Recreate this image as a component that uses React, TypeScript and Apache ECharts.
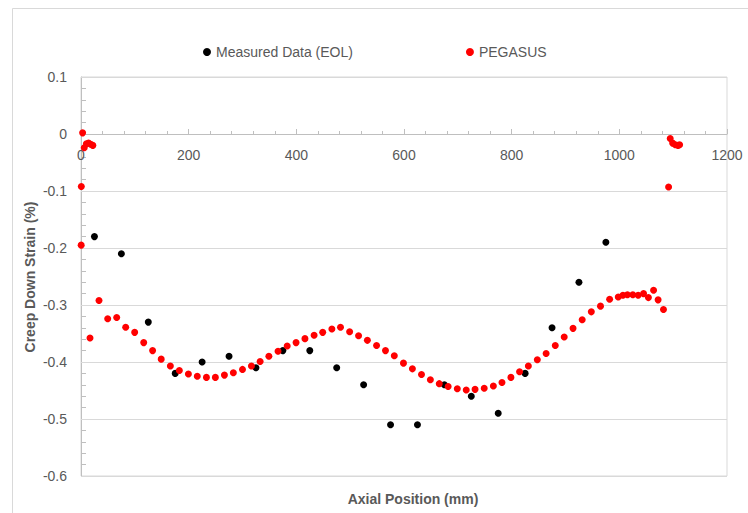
import React, { useEffect, useRef } from "react";
import * as echarts from "echarts";

const measuredX = [25, 75, 125, 175, 225, 275, 325, 375, 425, 475, 525, 575, 625, 675, 725, 775, 825, 875, 925, 975];
const measuredY = [-0.18, -0.21, -0.33, -0.42, -0.40, -0.39, -0.41, -0.38, -0.38, -0.41, -0.44, -0.51, -0.51, -0.44, -0.46, -0.49, -0.42, -0.34, -0.26, -0.19];

const pegasusX = [
  0.3, 0.6, 3, 6, 10, 14, 18, 22,
  16.7, 33.4, 49.6, 66.3, 83, 99.7, 116.5, 133, 149, 166,
  182.7, 199.5, 216, 233, 249.6, 266.4, 283, 300, 316.6, 332.7,
  349, 366, 383, 399.5, 416, 433, 449, 466, 482, 499,
  515.6, 532, 549, 565.6, 582, 599, 615.6, 632.5, 649, 665.5,
  682, 699, 715.6, 732, 749, 766, 782, 798.6, 814.7, 831,
  847.6, 864, 881, 897.6, 914, 931, 948, 965, 982, 998,
  1006.7, 1015, 1025, 1035, 1045, 1054, 1063.6, 1072, 1082,
  1091.5, 1094.5, 1099, 1104, 1109, 1112,
];
const pegasusY = [
  -0.195, -0.092, 0.002, -0.024, -0.017, -0.016, -0.018, -0.02,
  -0.358, -0.292, -0.324, -0.322, -0.339, -0.348, -0.366, -0.380, -0.395, -0.407,
  -0.415, -0.421, -0.425, -0.427, -0.427, -0.423, -0.419, -0.413, -0.407, -0.399,
  -0.390, -0.381, -0.372, -0.366, -0.359, -0.353, -0.348, -0.342, -0.339, -0.347,
  -0.354, -0.362, -0.371, -0.380, -0.389, -0.402, -0.412, -0.422, -0.431, -0.438,
  -0.443, -0.447, -0.449, -0.448, -0.446, -0.442, -0.436, -0.427, -0.417, -0.407,
  -0.396, -0.385, -0.371, -0.356, -0.341, -0.326, -0.312, -0.302, -0.290, -0.286,
  -0.283, -0.282, -0.282, -0.283, -0.280, -0.287, -0.274, -0.291, -0.308,
  -0.093, -0.008, -0.016, -0.019, -0.02, -0.019,
];

const seriesNames = ["Measured Data (EOL)", "PEGASUS"];
const xTitle = "Axial Position (mm)";
const yTitle = "Creep Down Strain (%)";

const FONT = "'Liberation Sans', Arial, sans-serif";
const TEXT = "#595959";

export default function App() {
  const ref = useRef<HTMLDivElement>(null);
  useEffect(() => {
    if (!ref.current) return;
    const chart = echarts.init(ref.current, null, { renderer: "svg" });
    const measured = measuredX.map((x, i) => [x, measuredY[i]]);
    const pegasus = pegasusX.map((x, i) => [x, pegasusY[i]]);
    chart.setOption({
      animation: false,
      backgroundColor: "#ffffff",
      textStyle: { fontFamily: FONT },
      grid: {
        left: 81, top: 77, right: 21, bottom: 37,
        show: true, borderColor: "#d9d9d9", borderWidth: 1, backgroundColor: "transparent",
      },
      legend: {
        left: 198, top: 40, itemWidth: 8, itemHeight: 8, itemGap: 113,
        icon: "circle",
        textStyle: { fontFamily: FONT, fontSize: 14, color: TEXT },
        data: seriesNames,
      },
      xAxis: {
        type: "value", min: 0, max: 1200, interval: 200,
        position: "bottom", offset: -342,
        axisLine: { show: true, onZero: false, lineStyle: { color: "#bfbfbf" } },
        axisTick: { show: true, inside: true, length: 5, lineStyle: { color: "#bfbfbf" } },
        minorTick: { show: true, splitNumber: 5, length: 3, lineStyle: { color: "#bfbfbf" } },
        splitLine: { show: false },
        axisLabel: {
          fontFamily: FONT, fontSize: 14, color: TEXT, margin: 14,
          formatter: (v: number) => String(v),
        },
      },
      yAxis: {
        type: "value", min: -0.6, max: 0.1, interval: 0.1,
        axisLine: { show: true, lineStyle: { color: "#bfbfbf" } },
        axisTick: { show: true, inside: true, length: 5, lineStyle: { color: "#d9d9d9" } },
        minorTick: { show: true, splitNumber: 5, length: 5, lineStyle: { color: "#bfbfbf" } },
        splitLine: { show: true, lineStyle: { color: "#d9d9d9" } },
        axisLabel: {
          fontFamily: FONT, fontSize: 14, color: TEXT, margin: 14,
          formatter: (v: number) => String(Math.round(v * 10) / 10),
        },
      },
      graphic: [
        {
          type: "rect", silent: true,
          shape: { x: 12.5, y: 8.5, width: 740, height: 520 },
          style: { fill: "none", stroke: "#d9d9d9", lineWidth: 1 },
        },
        {
          type: "text", x: 413, y: 499,
          style: { text: xTitle, fontFamily: FONT, fontSize: 14, fontWeight: "bold", fill: TEXT, align: "center", verticalAlign: "middle" },
        },
        {
          type: "text", x: 30, y: 277, rotation: Math.PI / 2,
          style: { text: yTitle, fontFamily: FONT, fontSize: 14, fontWeight: "bold", fill: TEXT, align: "center", verticalAlign: "middle" },
        },
      ],
      series: [
        {
          name: seriesNames[0], type: "scatter", data: measured, symbol: "circle", symbolSize: 7,
          itemStyle: { color: "#000000", opacity: 1 }, z: 2,
        },
        {
          name: seriesNames[1], type: "scatter", data: pegasus, symbol: "circle", symbolSize: 7,
          itemStyle: { color: "#ff0000", opacity: 1 }, z: 3,
        },
      ],
    });
    return () => chart.dispose();
  }, []);
  return <div ref={ref} style={{ position: "fixed", left: 0, top: 0, width: 748, height: 513 }} />;
}
